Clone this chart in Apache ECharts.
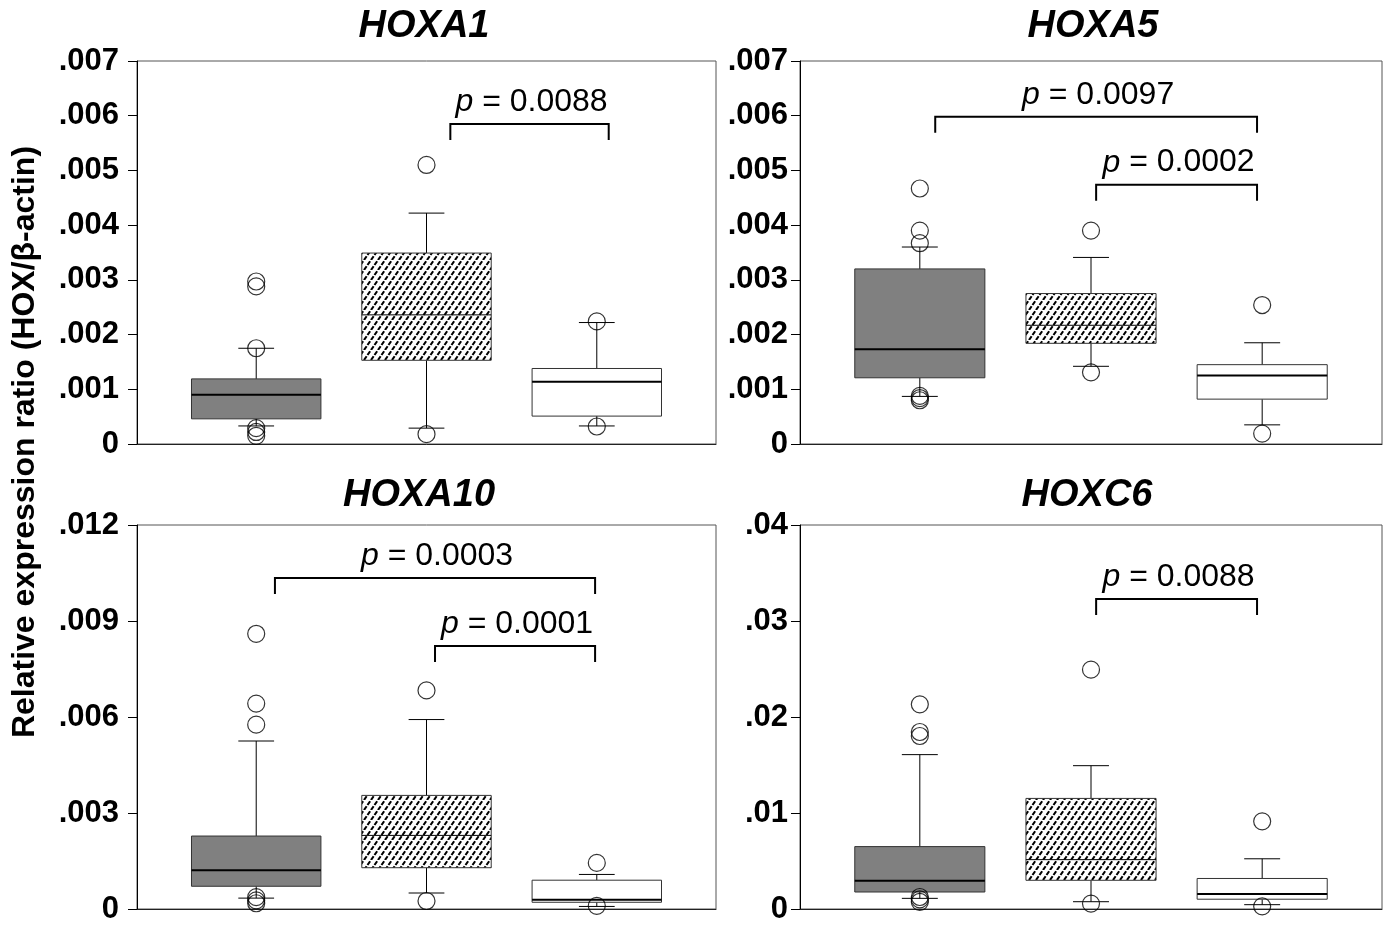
<!DOCTYPE html>
<html>
<head>
<meta charset="utf-8">
<script src="https://cdn.jsdelivr.net/npm/echarts@6/dist/echarts.min.js"></script>
<style>html,body{margin:0;padding:0;background:#fff}#c{width:1393px;height:929px}</style>
</head>
<body>
<div id="c"></div>
<script>
// ---------- data ----------
const genes = ['HOXA1', 'HOXA5', 'HOXA10', 'HOXC6'];
const groups = [1, 2, 3];
const yMaxes = [0.007, 0.007, 0.012, 0.04];
const yIntervals = [0.001, 0.001, 0.003, 0.01];
const yDecimals = [3, 3, 3, 2];

// [lower whisker, Q1, median, Q3, upper whisker] per group
const hoxa1Box = [
  [0.00033, 0.00046, 0.00090, 0.00119, 0.00175],
  [0.00029, 0.00153, 0.00236, 0.00349, 0.00422],
  [0.00033, 0.00051, 0.00114, 0.00138, 0.00222]
];
const hoxa5Box = [
  [0.00087, 0.00121, 0.00173, 0.00320, 0.00360],
  [0.00142, 0.00184, 0.00217, 0.00275, 0.00341],
  [0.00035, 0.00082, 0.00125, 0.00145, 0.00185]
];
const hoxa10Box = [
  [0.00034, 0.00071, 0.00121, 0.00228, 0.00525],
  [0.00050, 0.00129, 0.00230, 0.00355, 0.00592],
  [0.00008, 0.00021, 0.00029, 0.00090, 0.00108]
];
const hoxc6Box = [
  [0.00111, 0.00177, 0.00295, 0.00650, 0.01608],
  [0.00076, 0.00299, 0.00514, 0.01152, 0.01493],
  [0.00045, 0.00102, 0.00155, 0.00318, 0.00523]
];

// outliers: [group, value]
const hoxa1Out = [[1,0.00297],[1,0.00288],[1,0.00175],[1,0.00029],[1,0.00022],[1,0.00015],[2,0.00510],[2,0.00018],[3,0.00224],[3,0.00032]];
const hoxa5Out = [[1,0.00467],[1,0.00390],[1,0.00367],[1,0.00088],[1,0.00084],[1,0.00080],[2,0.00390],[2,0.00131],[3,0.00254],[3,0.00019]];
const hoxa10Out = [[1,0.00860],[1,0.00642],[1,0.00576],[1,0.00037],[1,0.00027],[1,0.00018],[2,0.00683],[2,0.00025],[3,0.00144],[3,0.00010]];
const hoxc6Out = [[1,0.02132],[1,0.01844],[1,0.01802],[1,0.00125],[1,0.00100],[1,0.00075],[2,0.02493],[2,0.00056],[3,0.00913],[3,0.00028]];

// significance brackets: [from group pos, to group pos, level]
const hoxa1Brackets = [[2.14, 3.07, 0.00585]];
const hoxa5Brackets = [[1.09, 2.97, 0.00598], [2.03, 2.97, 0.00474]];
const hoxa10Brackets = [[1.11, 2.99, 0.01034], [2.05, 2.99, 0.00822]];
const hoxc6Brackets = [[2.03, 2.97, 0.0323]];
const hoxa1P = ['0.0088'];
const hoxa5P = ['0.0097', '0.0002'];
const hoxa10P = ['0.0003', '0.0001'];
const hoxc6P = ['0.0088'];

const yAxisTitle = 'Relative expression ratio (HOX/\u03b2-actin)';

// ---------- styling / layout ----------
const FONT = '"Liberation Sans", Arial, Helvetica, sans-serif';
const boxes = [hoxa1Box, hoxa5Box, hoxa10Box, hoxc6Box];
const outs = [hoxa1Out, hoxa5Out, hoxa10Out, hoxc6Out];
const brackets = [hoxa1Brackets, hoxa5Brackets, hoxa10Brackets, hoxc6Brackets];
const pLabels = [hoxa1P, hoxa5P, hoxa10P, hoxc6P];

const grids = [
  {left: 137, top: 61, width: 579, height: 383},
  {left: 800, top: 61, width: 582, height: 383},
  {left: 137, top: 525, width: 579, height: 384},
  {left: 800, top: 525, width: 582, height: 384}
];
const labelMargins = [18, 12, 18, 12];
const titlePos = [[424, 27], [1093, 27], [419, 496], [1087, 496]];

// hatch pattern (steep dashed diagonal lines)
const hatch = document.createElement('canvas');
const HW = 7, HH = 10;
hatch.width = HW; hatch.height = HH;
(function () {
  const ctx = hatch.getContext('2d');
  ctx.fillStyle = '#fff';
  ctx.fillRect(0, 0, HW, HH);
  ctx.strokeStyle = '#000';
  ctx.lineWidth = 2.1;
  const L = Math.sqrt(HW * HW + HH * HH);
  ctx.setLineDash([L / 2 - 1.5, 1.5, L / 2 - 1.5, 1.5]);
  for (let s = -1; s <= 1; s++) {
    ctx.beginPath();
    ctx.moveTo(s * HW, HH);
    ctx.lineTo(s * HW + HW, 0);
    ctx.stroke();
  }
})();

const fills = ['#808080', {image: hatch, repeat: 'repeat'}, '#ffffff'];
const medianWidths = [2, 1, 2];
const BOX_W = 0.76, CAP_W = 0.21;

function makeBoxRender() {
  return function (params, api) {
    const g = api.value(0);
    const i = params.dataIndex;
    const pMin = api.coord([g, api.value(1)]);
    const pQ1 = api.coord([g, api.value(2)]);
    const pMed = api.coord([g, api.value(3)]);
    const pQ3 = api.coord([g, api.value(4)]);
    const pMax = api.coord([g, api.value(5)]);
    const half = api.size([BOX_W, 0])[0] / 2;
    const cap = api.size([CAP_W, 0])[0] / 2;
    const x = pMed[0];
    const ls = {stroke: '#000', lineWidth: 1};
    return {
      type: 'group',
      children: [
        {type: 'line', shape: {x1: x, y1: pQ3[1], x2: x, y2: pMax[1]}, style: ls},
        {type: 'line', shape: {x1: x - cap, y1: pMax[1], x2: x + cap, y2: pMax[1]}, style: ls},
        {type: 'line', shape: {x1: x, y1: pQ1[1], x2: x, y2: pMin[1]}, style: ls},
        {type: 'line', shape: {x1: x - cap, y1: pMin[1], x2: x + cap, y2: pMin[1]}, style: ls},
        {type: 'rect', shape: {x: x - half, y: pQ3[1], width: 2 * half, height: pQ1[1] - pQ3[1]},
          style: {fill: fills[i], stroke: '#333', lineWidth: 1}},
        {type: 'line', shape: {x1: x - half, y1: pMed[1], x2: x + half, y2: pMed[1]},
          style: {stroke: '#000', lineWidth: medianWidths[i]}}
      ]
    };
  };
}

function makeBracketRender(labels) {
  return function (params, api) {
    const a = api.coord([api.value(0), api.value(2)]);
    const b = api.coord([api.value(1), api.value(2)]);
    const leg = 16;
    return {
      type: 'group',
      children: [
        {type: 'polyline', shape: {points: [[a[0], a[1] + leg], [a[0], a[1]], [b[0], b[1]], [b[0], b[1] + leg]]},
          style: {stroke: '#000', lineWidth: 2, fill: null}},
        {type: 'text', x: (a[0] + b[0]) / 2 + 2, y: a[1] - 22,
          style: {text: '{i|p} = ' + labels[params.dataIndex], fontSize: 32, fontFamily: FONT, fill: '#000',
            align: 'center', verticalAlign: 'middle',
            rich: {i: {fontStyle: 'italic', fontSize: 32, fontFamily: FONT, fill: '#000'}}}}
      ]
    };
  };
}

const option = {
  backgroundColor: '#fff',
  animation: false,
  grid: grids.map(g => Object.assign({show: true, borderColor: '#555', borderWidth: 1, backgroundColor: 'transparent'}, g)),
  xAxis: grids.map((g, k) => ({
    type: 'value', gridIndex: k, min: 0.3, max: 3.7,
    axisLine: {show: true, lineStyle: {color: '#222', width: 1}},
    axisTick: {show: false}, axisLabel: {show: false}, splitLine: {show: false}
  })),
  yAxis: grids.map((g, k) => ({
    type: 'value', gridIndex: k, min: 0, max: yMaxes[k], interval: yIntervals[k],
    axisLine: {show: true, lineStyle: {color: '#000', width: 1}},
    axisTick: {show: true, length: 9, lineStyle: {color: '#000'}},
    splitLine: {show: false},
    axisLabel: {
      margin: labelMargins[k], color: '#000', fontSize: 31, fontWeight: 'bold', fontFamily: FONT,
      formatter: v => v === 0 ? '0' : v.toFixed(yDecimals[k]).replace(/^0/, '')
    }
  })),
  graphic: genes.map((t, k) => ({
    type: 'text', x: titlePos[k][0], y: titlePos[k][1],
    style: {text: t, fontSize: 38, fontWeight: 'bold', fontStyle: 'italic', fontFamily: FONT, fill: '#000',
      align: 'center', verticalAlign: 'middle'}
  })).concat([{
    type: 'text', x: 25, y: 442, rotation: Math.PI / 2,
    style: {text: yAxisTitle, fontSize: 32, fontWeight: 'bold', fontFamily: FONT, fill: '#000',
      align: 'center', verticalAlign: 'middle'}
  }]),
  series: []
};

for (let k = 0; k < 4; k++) {
  option.series.push({
    type: 'custom', xAxisIndex: k, yAxisIndex: k, renderItem: makeBoxRender(),
    data: boxes[k].map((b, i) => [groups[i]].concat(b)), z: 2
  });
  option.series.push({
    type: 'scatter', xAxisIndex: k, yAxisIndex: k, data: outs[k], symbol: 'circle', symbolSize: 17,
    itemStyle: {color: 'rgba(0,0,0,0)', borderColor: '#000', borderWidth: 1.2}, z: 3
  });
  option.series.push({
    type: 'custom', xAxisIndex: k, yAxisIndex: k, renderItem: makeBracketRender(pLabels[k]),
    data: brackets[k], z: 4, clip: false
  });
}

const chart = echarts.init(document.getElementById('c'), null, {renderer: 'canvas'});
chart.setOption(option);
</script>
</body>
</html>
